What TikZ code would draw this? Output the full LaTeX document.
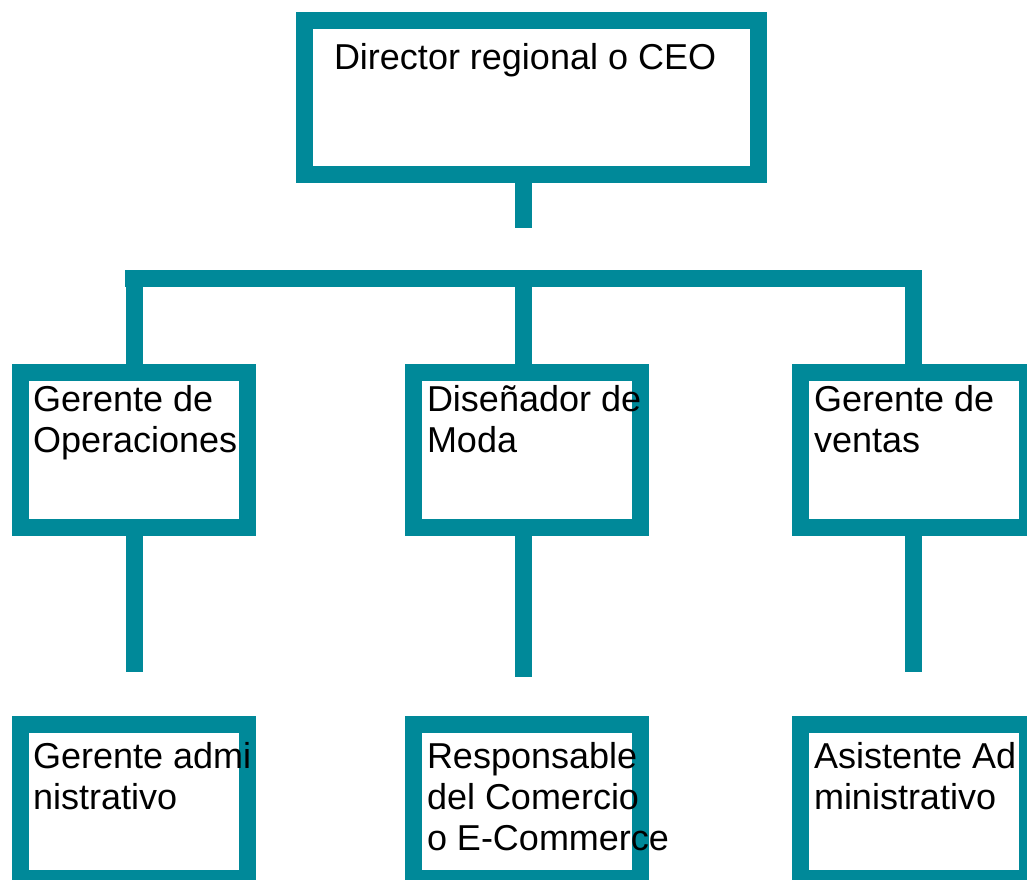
\documentclass[tikz,border=0pt]{standalone}
\usepackage{fontspec}
\setmainfont{Liberation Sans}
\definecolor{orgteal}{RGB}{0,137,153}
\begin{document}
\begin{tikzpicture}[x=1pt,y=-1pt,
  box/.style={draw=orgteal, line width=17pt, inner sep=0pt, outer sep=0pt, minimum width=227pt, minimum height=155pt},
  conn/.style={draw=orgteal, line width=17pt, line cap=butt},
  lbl/.style={anchor=base west, inner sep=0pt, outer sep=0pt, text=black, font=\fontsize{36}{41}\selectfont}]
\useasboundingbox (0,0) rectangle (1027,879);
% boxes
\node[box, minimum width=454pt, minimum height=154pt] (ceo) at (531.5,97.5) {};
\node[box] (op)  at (134,450) {};
\node[box] (dis) at (527,450) {};
\node[box] (ven) at (914,450) {};
\node[box, minimum height=154pt] (adm)  at (134,801.5) {};
\node[box, minimum height=154pt] (ecom) at (527,801.5) {};
\node[box, minimum height=154pt] (asis) at (914,801.5) {};
% connector end points
\coordinate (ceoend) at (523.5,228);
\coordinate (barL) at (125,278.5);
\coordinate (barR) at (922,278.5);
\coordinate (xL) at (134,0);
\coordinate (xM) at (523.5,0);
\coordinate (xR) at (913.5,0);
\coordinate (opend) at (134,672);
\coordinate (disend) at (523.5,677);
\coordinate (venend) at (913.5,672);
% connectors
\draw[conn] (ceo.south -| ceoend) -- (ceoend);
\draw[conn] (barL) -- (barR);
\draw[conn] (barL -| xL) -- (op.north -| xL);
\draw[conn] (barL -| xM) -- (dis.north -| xM);
\draw[conn] (barL -| xR) -- (ven.north -| xR);
\draw[conn] (op.south -| xL) -- (opend);
\draw[conn] (dis.south -| xM) -- (disend);
\draw[conn] (ven.south -| xR) -- (venend);
% labels
\node[lbl] (tceo) at (334,69) {Director regional o CEO};
\node[lbl] (top) at (33,411) {\begin{tabular}[t]{@{}l@{}}Gerente de\\Operaciones\end{tabular}};
\node[lbl] (tdis) at (427,411) {\begin{tabular}[t]{@{}l@{}}Diseñador de\\Moda\end{tabular}};
\node[lbl] (tven) at (814,411) {\begin{tabular}[t]{@{}l@{}}Gerente de\\ventas\end{tabular}};
\node[lbl] (tadm) at (33,768) {\begin{tabular}[t]{@{}l@{}}Gerente admi\\nistrativo\end{tabular}};
\node[lbl] (tecom) at (427,768) {\begin{tabular}[t]{@{}l@{}}Responsable\\del Comercio\\o E-Commerce\end{tabular}};
\node[lbl] (tasis) at (814,768) {\begin{tabular}[t]{@{}l@{}}Asistente Ad\\ministrativo\end{tabular}};
\end{tikzpicture}
\end{document}
